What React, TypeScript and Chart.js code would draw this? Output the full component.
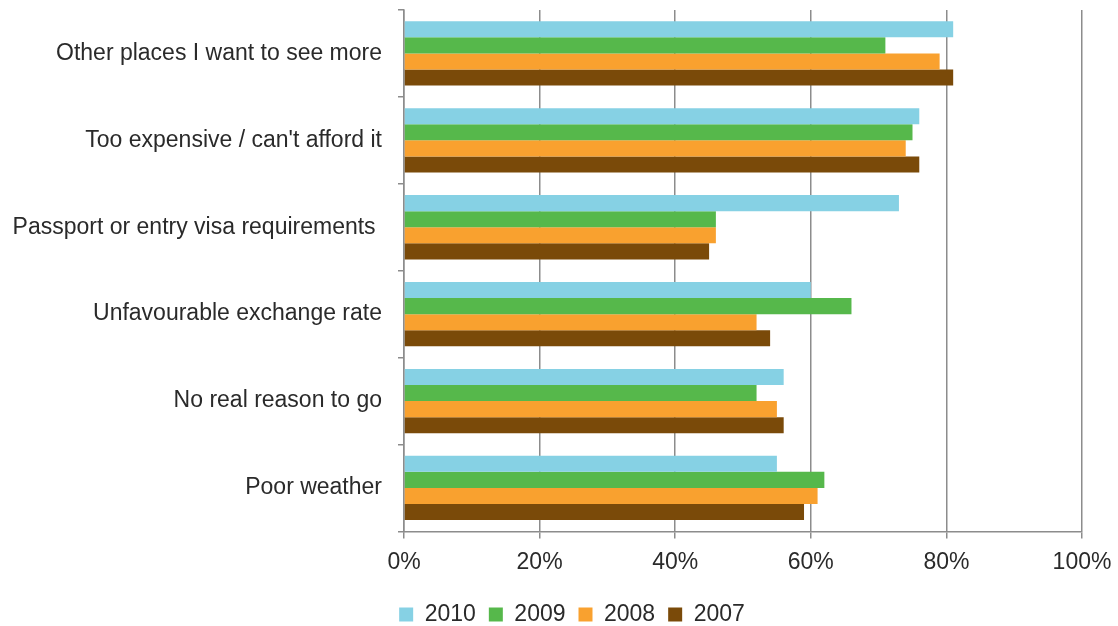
import React, { useEffect, useRef } from "react";
import { Chart, registerables } from "chart.js";

Chart.register(...registerables);

const categories = [
  "Other places I want to see more",
  "Too expensive / can't afford it",
  "Passport or entry visa requirements ",
  "Unfavourable exchange rate",
  "No real reason to go",
  "Poor weather",
];
const years = ["2010", "2009", "2008", "2007"];
const v2010 = [81, 76, 73, 60, 56, 55];
const v2009 = [71, 75, 46, 66, 52, 62];
const v2008 = [79, 74, 46, 52, 55, 61];
const v2007 = [81, 76, 45, 54, 56, 59];
const colors = ["#86D1E4", "#56B84B", "#F9A12F", "#7A4A09"];
const xTicks = [0, 20, 40, 60, 80, 100];

const legendShift = {
  id: "legendShift",
  afterLayout(chart: any) {
    const lg = chart.legend;
    if (!lg) return;
    lg.left += 31;
    lg.right += 31;
    lg.top += 4;
    lg.bottom += 4;
  },
};

export default function App() {
  const ref = useRef<HTMLCanvasElement | null>(null);
  useEffect(() => {
    if (!ref.current) return;
    const series = [v2010, v2009, v2008, v2007];
    const font = { family: "'Liberation Sans', Arial, sans-serif", size: 23 };
    const chart = new Chart(ref.current, {
      type: "bar",
      data: {
        labels: categories,
        datasets: years.map((y, i) => ({
          label: y,
          data: series[i],
          backgroundColor: colors[i],
          borderWidth: 0,
          categoryPercentage: 0.74,
          barPercentage: 1,
        })),
      },
      plugins: [legendShift],
      options: {
        indexAxis: "y",
        responsive: false,
        animation: false,
        layout: { padding: { top: 10, right: 36, left: 0, bottom: -6 } },
        plugins: {
          tooltip: { enabled: false },
          legend: {
            position: "bottom",
            labels: {
              font,
              color: "#2a2a2a",
              boxWidth: 14,
              boxHeight: 14,
              padding: 13,
            },
          },
        },
        scales: {
          x: {
            min: 0,
            max: 100,
            afterBuildTicks: (scale: any) => {
              scale.ticks = xTicks.map((v) => ({ value: v }));
            },
            afterFit: (scale: any) => {
              scale.paddingRight = 0;
              scale.paddingLeft = 0;
            },
            ticks: {
              font,
              color: "#2a2a2a",
              padding: 10,
              callback: (v: any) => v + "%",
            },
            grid: {
              color: "#8c8c8c",
              lineWidth: 1.5,
              tickLength: 7,
            },
            border: { color: "#8c8c8c", width: 1.5 },
          },
          y: {
            afterFit: (scale: any) => {
              scale.width = 404;
              scale.paddingTop = 0;
              scale.paddingBottom = 0;
            },
            ticks: {
              font,
              color: "#2a2a2a",
              padding: 16,
            },
            grid: {
              offset: true,
              drawOnChartArea: false,
              color: "#8c8c8c",
              lineWidth: 1.5,
              tickLength: 6,
            },
            border: { color: "#8c8c8c", width: 1.5 },
          },
        },
      },
    } as any);
    return () => chart.destroy();
  }, []);
  return (
    <div style={{ position: "fixed", left: 0, top: 0, width: 1118, height: 626, background: "#fff" }}>
      <canvas ref={ref} width={1118} height={626} />
    </div>
  );
}
